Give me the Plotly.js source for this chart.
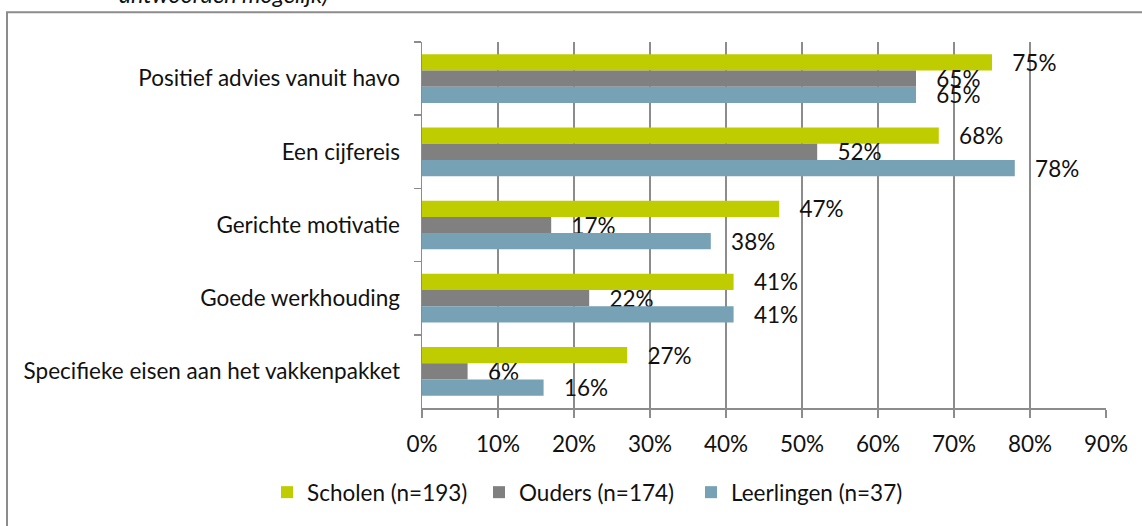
<!DOCTYPE html>
<html>
<head>
<meta charset="utf-8">
<script src="https://cdn.plot.ly/plotly-3.0.1.min.js"></script>
<style>
  html, body { margin: 0; padding: 0; background: #fff; }
  #chart { width: 1142px; height: 526px; }
</style>
</head>
<body>
<div id="chart"></div>
<script>
// Categories (top to bottom)
const categories = [
  "Positief advies vanuit havo",
  "Een cijfereis",
  "Gerichte motivatie",
  "Goede werkhouding",
  "Specifieke eisen aan het vakkenpakket"
];
// Series values (%)
const scholen = [75, 68, 47, 41, 27];
const ouders = [65, 52, 17, 22, 6];
const leerlingen = [65, 78, 38, 41, 16];
const seriesNames = ["Scholen (n=193)", "Ouders (n=174)", "Leerlingen (n=37)"];
const tickVals = [0, 10, 20, 30, 40, 50, 60, 70, 80, 90];
const tickText = ["0%", "10%", "20%", "30%", "40%", "50%", "60%", "70%", "80%", "90%"];
const topNote = "antwoorden mogelijk)";

const FONT = "Lato, 'Liberation Sans', sans-serif";
const FS = 22.5;
const colors = ["#BFCC00", "#808080", "#77A1B5"];
const seriesData = [scholen, ouders, leerlingen];
const legendIds = ["legend", "legend2", "legend3"];
const legendLeftPx = [267, 479, 691];

const traces = seriesData.map((vals, i) => ({
  type: "bar",
  orientation: "h",
  name: seriesNames[i],
  legend: legendIds[i],
  y: categories,
  x: vals,
  marker: { color: colors[i] },
  text: vals.map(v => v + "%"),
  texttemplate: "\u00a0\u00a0\u00a0%{text}",
  textposition: "outside",
  constraintext: "none",
  cliponaxis: false,
  textfont: { family: FONT, size: FS, color: "#111" },
  hoverinfo: "skip"
}));

// plot area geometry helpers (for decorative frame / legend placement)
const L = 422, R = 36, T = 42, B = 116, W = 1142, H = 526;
const pw = W - L - R, ph = H - T - B;
const px2x = p => (p - L) / pw;
const py2y = p => (H - B - p) / ph;

const layout = {
  width: W,
  height: H,
  margin: { l: L, r: R, t: T, b: B, pad: 0 },
  paper_bgcolor: "#ffffff",
  plot_bgcolor: "#ffffff",
  font: { family: FONT, size: FS, color: "#111" },
  barmode: "group",
  bargap: 0.335,
  bargroupgap: 0,
  showlegend: true,
  xaxis: {
    range: [0, 90],
    tickmode: "array",
    tickvals: tickVals,
    ticktext: tickText,
    showgrid: true,
    gridcolor: "#8c8c8c",
    gridwidth: 1.5,
    zeroline: false,
    showline: true,
    linecolor: "#8c8c8c",
    linewidth: 1.5,
    ticks: "outside",
    ticklen: 8,
    tickwidth: 1.5,
    tickcolor: "#8c8c8c",
    ticklabelstandoff: 7,
    tickfont: { family: FONT, size: FS, color: "#111" },
    fixedrange: true
  },
  yaxis: {
    type: "category",
    autorange: "reversed",
    showgrid: false,
    zeroline: false,
    showline: true,
    linecolor: "#8c8c8c",
    linewidth: 1.5,
    ticks: "outside",
    tickson: "boundaries",
    ticklen: 7,
    tickwidth: 1.5,
    tickcolor: "#8c8c8c",
    ticklabelstandoff: 16,
    tickfont: { family: FONT, size: FS, color: "#111" },
    fixedrange: true
  },
  shapes: [{
    type: "rect",
    xref: "paper", yref: "paper",
    x0: px2x(7), x1: px2x(1160),
    y0: py2y(545), y1: py2y(12),
    line: { color: "#8c8c8c", width: 2 },
    fillcolor: "rgba(0,0,0,0)",
    layer: "below"
  }],
  annotations: [{
    text: "<i>" + topNote + "</i>",
    xref: "paper", yref: "paper",
    x: px2x(117), xanchor: "left",
    y: py2y(10), yanchor: "bottom",
    showarrow: false,
    font: { family: FONT, size: 23.5, color: "#111" }
  }]
};

legendIds.forEach((id, i) => {
  layout[id] = {
    orientation: "h",
    x: px2x(legendLeftPx[i]),
    xanchor: "left",
    y: py2y(495),
    yanchor: "middle",
    itemwidth: 30,
    font: { family: FONT, size: FS, color: "#111" },
    bgcolor: "rgba(0,0,0,0)"
  };
});

Plotly.newPlot("chart", traces, layout, { displayModeBar: false, staticPlot: true });
</script>
</body>
</html>
